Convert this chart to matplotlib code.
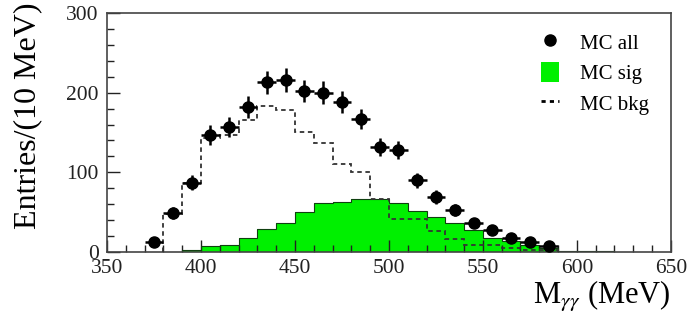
import numpy as np
import matplotlib.pyplot as plt
from matplotlib.lines import Line2D
from matplotlib.patches import Patch
from matplotlib.ticker import MultipleLocator

plt.rcParams['font.family'] = ['Liberation Serif', 'DejaVu Serif']
plt.rcParams['mathtext.fontset'] = 'stix'

# MC all (points), bin centres in MeV
all_x = [375, 385, 395, 405, 415, 425, 435, 445, 455, 465, 475,
         485, 495, 505, 515, 525, 535, 545, 555, 565, 575, 585]
all_y = [12, 49, 87, 147, 157, 182, 213, 216, 202, 200, 188,
         167, 132, 128, 90, 69, 53, 37, 28, 17, 12, 7]
all_err = [3.5, 7, 9.3, 12.1, 12.5, 13.5, 14.6, 14.7, 14.2, 14.1, 13.7,
           12.9, 11.5, 11.3, 9.5, 8.3, 7.3, 6.1, 5.3, 4.1, 3.5, 2.6]

# MC signal histogram
sig_edges = [390, 400, 410, 420, 430, 440, 450, 460, 470, 480, 490, 500, 510,
             520, 530, 540, 550, 560, 570, 580, 590, 600, 610, 620]
sig_vals = [2, 7, 9, 17, 29, 37, 50, 61, 63, 66, 66, 61,
            52, 44, 37, 28, 18, 14, 9, 5, 1.5, 1, 1]

# MC background histogram
bkg_edges = [380, 390, 400, 410, 420, 430, 440, 450, 460, 470, 480, 490, 500,
             510, 520, 530, 540, 550, 560, 570, 580, 590]
bkg_vals = [48, 87, 143, 147, 166, 183, 178, 151, 137, 111, 100,
            66, 41, 41, 26, 16, 9, 9, 5, 3, 2]

fig = plt.figure(figsize=(6.97, 3.2), dpi=100)
ax = fig.add_axes([0.1535, 0.2125, 0.809, 0.747])

ax.stairs(sig_vals, sig_edges, fill=True, color='#00f000', zorder=1)
ax.stairs(sig_vals, sig_edges, color='#104010', linewidth=0.8, zorder=2)
ax.stairs(bkg_vals, bkg_edges, color='#333333', linewidth=1.3,
          linestyle=(0, (2.5, 2)), zorder=3)
ax.errorbar(all_x, all_y, xerr=5, yerr=all_err, fmt='o', color='black',
            markersize=8, elinewidth=1.8, capsize=0, zorder=4)

ax.set_xlim(350, 650)
ax.set_ylim(0, 300)
ax.xaxis.set_major_locator(MultipleLocator(50))
ax.xaxis.set_minor_locator(MultipleLocator(10))
ax.yaxis.set_major_locator(MultipleLocator(100))
ax.yaxis.set_minor_locator(MultipleLocator(20))
ax.tick_params(which='both', direction='in', top=False, right=False,
               labelsize=15.5, colors='#222222')
ax.tick_params(which='major', length=9, width=1)
ax.tick_params(which='minor', length=5, width=1)
ax.tick_params(axis='x', pad=5)
ax.tick_params(axis='y', pad=6)
for s in ax.spines.values():
    s.set_linewidth(1.2)
    s.set_color('#444444')

ax.set_ylabel('Entries/(10 MeV)', fontsize=23)
ax.yaxis.set_label_coords(-0.115, 0.57)
ax.set_xlabel(r'M$_{\gamma\gamma}$ (MeV)', fontsize=22, loc='right', labelpad=1)

handles = [Line2D([], [], marker='o', color='black', linestyle='none', markersize=8),
           Patch(facecolor='#00f000', edgecolor='none'),
           Line2D([], [], color='black', linestyle=(0, (1.5, 1.5)), linewidth=2)]
ax.legend(handles, ['MC all', 'MC sig', 'MC bkg'], loc='upper right',
          frameon=False, fontsize=15, handlelength=0.9, handleheight=1.1,
          handletextpad=1.0, labelspacing=0.4, bbox_to_anchor=(0.995, 1.0))

fig.savefig('out.png', dpi=100)
